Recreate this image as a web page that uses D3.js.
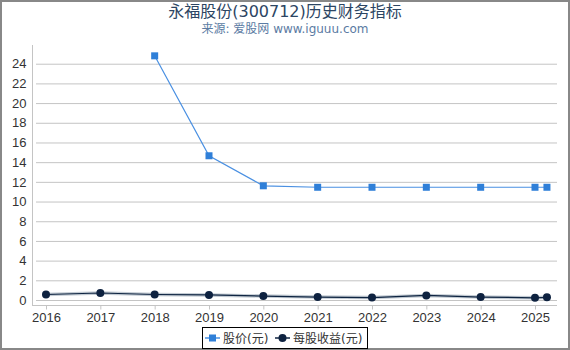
<!DOCTYPE html>
<html>
<head>
<meta charset="utf-8">
<script src="https://cdn.jsdelivr.net/npm/d3@7"></script>
<style>
  body { margin: 0; background: #fff; }
  svg { display: block; font-family: "DejaVu Sans", "Noto Sans CJK SC", sans-serif; }
</style>
</head>
<body>
<div id="chart"></div>
<script>
const width = 570, height = 350;

// data
const priceYears = [2018, 2019, 2020, 2021, 2022, 2023, 2024, 2025, 2025.22];
const priceValues = [24.8, 14.65, 11.6, 11.45, 11.45, 11.45, 11.45, 11.45, 11.45];
const epsYears = [2016, 2017, 2018, 2019, 2020, 2021, 2022, 2023, 2024, 2025, 2025.22];
const epsValues = [0.56, 0.71, 0.56, 0.52, 0.4, 0.3, 0.25, 0.46, 0.3, 0.22, 0.27];
const yTicks = [0, 2, 4, 6, 8, 10, 12, 14, 16, 18, 20, 22, 24];
const xTicks = [2016, 2017, 2018, 2019, 2020, 2021, 2022, 2023, 2024, 2025];
const seriesNames = ['股价(元)', '每股收益(元)'];

const svg = d3.select('#chart')
  .append('svg')
    .attr('width', width)
    .attr('height', height);

// outer frame
svg.append('rect')
  .attr('x', 1).attr('y', 1)
  .attr('width', width - 2).attr('height', height - 2)
  .attr('fill', '#fff')
  .attr('stroke', '#888')
  .attr('stroke-width', 2);

const xScale = d3.scaleLinear()
  .domain([2016, 2025])
  .range([46, 535]);

const yScale = d3.scaleLinear()
  .domain([0, 25.9])
  .range([300, 45]);

const left = 32, right = 557, bottom = 305;

// gridlines
svg.append('g')
  .selectAll('line')
  .data(yTicks)
  .join('line')
    .attr('x1', left + 4)
    .attr('x2', right)
    .attr('y1', d => yScale(d) + 0.5)
    .attr('y2', d => yScale(d) + 0.5)
    .attr('stroke', '#c4c4c4')
    .attr('stroke-width', 1);

// y axis
const yAxis = svg.append('g')
  .attr('transform', `translate(${left + 0.5},0)`)
  .call(d3.axisLeft(yScale).tickValues(yTicks).tickSize(0).tickPadding(6));
yAxis.select('.domain').attr('stroke', '#c4c4c4').attr('d', `M0,45V${bottom}`);
yAxis.selectAll('text')
  .attr('fill', '#333')
  .style('font-size', '13px');

// x axis
const xAxis = svg.append('g')
  .attr('transform', `translate(0,${bottom + 0.5})`)
  .call(d3.axisBottom(xScale).tickValues(xTicks).tickFormat(d3.format('d')).tickSize(4).tickPadding(3));
xAxis.select('.domain').attr('stroke', '#c4c4c4').attr('d', `M${left},0H${right}`);
xAxis.selectAll('line').attr('stroke', '#c4c4c4');
xAxis.selectAll('text')
  .attr('fill', '#333')
  .style('font-size', '13px');

const priceData = priceYears.map((y, i) => ({ x: y, v: priceValues[i] }));
const epsData = epsYears.map((y, i) => ({ x: y, v: epsValues[i] }));

const lineGen = d3.line()
  .x(d => xScale(d.x))
  .y(d => yScale(d.v));

// eps halo + line
svg.append('path')
  .datum(epsData)
  .attr('d', lineGen)
  .attr('fill', 'none')
  .attr('stroke', '#9aa6b4')
  .attr('stroke-width', 3.5)
  .attr('opacity', 0.6);
svg.append('path')
  .datum(epsData)
  .attr('d', lineGen)
  .attr('fill', 'none')
  .attr('stroke', '#0f2542')
  .attr('stroke-width', 1.2);
svg.append('g')
  .selectAll('circle')
  .data(epsData)
  .join('circle')
    .attr('cx', d => xScale(d.x))
    .attr('cy', d => yScale(d.v))
    .attr('r', 4)
    .attr('fill', '#0e2240');

// price line
svg.append('path')
  .datum(priceData)
  .attr('d', lineGen)
  .attr('fill', 'none')
  .attr('stroke', '#4a90e2')
  .attr('stroke-width', 1.2);
svg.append('g')
  .selectAll('rect')
  .data(priceData)
  .join('rect')
    .attr('x', d => xScale(d.x) - 3.5)
    .attr('y', d => yScale(d.v) - 3.5)
    .attr('width', 7)
    .attr('height', 7)
    .attr('fill', '#2f7fd8');

// title
svg.append('text')
  .attr('x', width / 2)
  .attr('y', 17)
  .attr('text-anchor', 'middle')
  .attr('fill', '#2c4563')
  .style('font-size', '16px')
  .text('永福股份(300712)历史财务指标');

svg.append('text')
  .attr('x', width / 2)
  .attr('y', 33)
  .attr('text-anchor', 'middle')
  .attr('fill', '#5b7ba3')
  .style('font-size', '12px')
  .text('来源: 爱股网 www.iguuu.com');

// legend
const legend = svg.append('g').attr('transform', 'translate(202,327)');
legend.append('rect')
  .attr('x', 0.5).attr('y', 0.5)
  .attr('width', 165).attr('height', 21)
  .attr('fill', '#fff')
  .attr('stroke', '#000');

const l1 = legend.append('g').attr('transform', 'translate(3,11)');
l1.append('line').attr('x1', 0).attr('x2', 15).attr('stroke', '#4a90e2').attr('stroke-width', 1.5);
l1.append('rect').attr('x', 4).attr('y', -3.5).attr('width', 7).attr('height', 7).attr('fill', '#2f7fd8');
l1.append('text').attr('x', 18).attr('y', 4.5).attr('fill', '#333').style('font-size', '12px').text(seriesNames[0]);

const l2 = legend.append('g').attr('transform', 'translate(73,11)');
l2.append('line').attr('x1', 0).attr('x2', 15).attr('stroke', '#0f2542').attr('stroke-width', 1.5);
l2.append('circle').attr('cx', 7.5).attr('r', 4).attr('fill', '#0e2240');
l2.append('text').attr('x', 18).attr('y', 4.5).attr('fill', '#333').style('font-size', '12px').text(seriesNames[1]);
</script>
</body>
</html>
